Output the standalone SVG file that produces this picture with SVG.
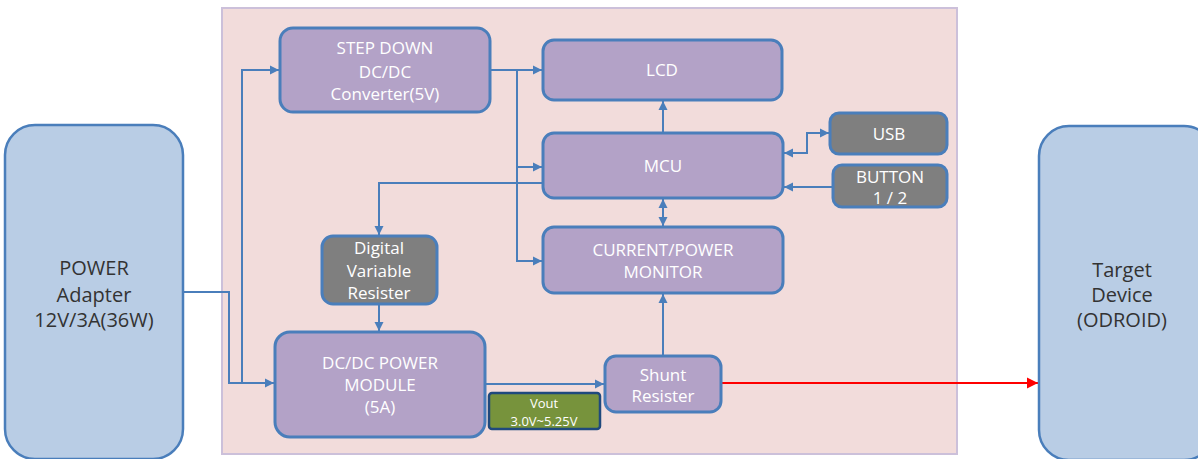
<svg xmlns="http://www.w3.org/2000/svg" width="1198" height="459" viewBox="0 0 1198 459">
<style>
.bg{fill:#f2dcdb;stroke:#ccc0da;stroke-width:2}
.pu{fill:#b3a2c7;stroke:#4a7ebb;stroke-width:3}
.gr{fill:#7f7f7f;stroke:#4a7ebb;stroke-width:3}
.bl{fill:#b9cde5;stroke:#4a7ebb;stroke-width:2.5}
.gn{fill:#77933c;stroke:#1f497d;stroke-width:2.5}
.tw{font-family:"Open Sans","Liberation Sans",sans-serif;font-size:17px;fill:#ffffff;text-anchor:middle}
.tb{font-family:"Open Sans","Liberation Sans",sans-serif;font-size:20px;fill:#333333;text-anchor:middle}
.ts{font-family:"Open Sans","Liberation Sans",sans-serif;font-size:13px;fill:#ffffff;text-anchor:middle}
.ln{fill:none;stroke:#4a7ebb;stroke-width:2}
.red{fill:none;stroke:#ff0000;stroke-width:2}
</style>
<defs>
<marker id="ah" markerUnits="userSpaceOnUse" markerWidth="10" markerHeight="10" refX="9" refY="5" orient="auto-start-reverse"><path d="M0,0.5 L9,5 L0,9.5 z" fill="#4a7ebb"/></marker>
<marker id="ahr" markerUnits="userSpaceOnUse" markerWidth="12" markerHeight="12" refX="11" refY="6" orient="auto"><path d="M0,0.5 L11,6 L0,11.5 z" fill="#ff0000"/></marker>
</defs>
<rect class="bg" x="222" y="8" width="735" height="446"/>
<g id="connectors">
<path class="ln" d="M183,292 H229 V383 H274" marker-end="url(#ah)"/>
<path class="ln" d="M242,383 V70 H279" marker-end="url(#ah)"/>
<path class="ln" d="M490,70 H542" marker-end="url(#ah)"/>
<path class="ln" d="M517,70 V261 H542" marker-end="url(#ah)"/>
<path class="ln" d="M517,167 H542" marker-end="url(#ah)"/>
<path class="ln" d="M543,183 H379 V235" marker-end="url(#ah)"/>
<path class="ln" d="M663,133 V101" marker-end="url(#ah)"/>
<path class="ln" d="M663,199 V226" marker-start="url(#ah)" marker-end="url(#ah)"/>
<path class="ln" d="M784,153 H807 V133 H829" marker-start="url(#ah)" marker-end="url(#ah)"/>
<path class="ln" d="M833,187 H784" marker-end="url(#ah)"/>
<path class="ln" d="M379,304 V331" marker-end="url(#ah)"/>
<path class="ln" d="M485,384 H604" marker-end="url(#ah)"/>
<path class="ln" d="M663,356 V294" marker-end="url(#ah)"/>
<path class="red" d="M721,383 H1038" marker-end="url(#ahr)"/>
</g>
<g id="power-adapter">
<rect class="bl" x="5" y="125" width="178" height="334" rx="30"/>
<text class="tb" x="94" y="275">POWER</text>
<text class="tb" x="94" y="302">Adapter</text>
<text class="tb" x="94" y="327">12V/3A(36W)</text>
</g>
<g id="target-device">
<rect class="bl" x="1039" y="126" width="175" height="334" rx="30"/>
<text class="tb" x="1122" y="277">Target</text>
<text class="tb" x="1122" y="302">Device</text>
<text class="tb" x="1122" y="327">(ODROID)</text>
</g>
<g id="step-down">
<rect class="pu" x="280" y="28" width="210" height="84" rx="13"/>
<text class="tw" x="385" y="54">STEP DOWN</text>
<text class="tw" x="385" y="78">DC/DC</text>
<text class="tw" x="385" y="100">Converter(5V)</text>
</g>
<g id="lcd">
<rect class="pu" x="543" y="40" width="239" height="60" rx="11"/>
<text class="tw" x="662" y="76">LCD</text>
</g>
<g id="mcu">
<rect class="pu" x="543" y="133" width="240" height="65" rx="11"/>
<text class="tw" x="663" y="172">MCU</text>
</g>
<g id="current-power-monitor">
<rect class="pu" x="543" y="227" width="240" height="66" rx="11"/>
<text class="tw" x="663" y="256">CURRENT/POWER</text>
<text class="tw" x="663" y="278">MONITOR</text>
</g>
<g id="usb">
<rect class="gr" x="830" y="113" width="117" height="41" rx="9"/>
<text class="tw" x="889" y="140">USB</text>
</g>
<g id="button">
<rect class="gr" x="833" y="165" width="114" height="42" rx="9"/>
<text class="tw" x="890" y="183">BUTTON</text>
<text class="tw" x="890" y="204">1 / 2</text>
</g>
<g id="digital-variable-resister">
<rect class="gr" x="322" y="236" width="115" height="68" rx="11"/>
<text class="tw" x="379" y="254">Digital</text>
<text class="tw" x="379" y="277">Variable</text>
<text class="tw" x="379" y="299">Resister</text>
</g>
<g id="dcdc-power-module">
<rect class="pu" x="275" y="332" width="210" height="105" rx="15"/>
<text class="tw" x="380" y="369">DC/DC POWER</text>
<text class="tw" x="380" y="391">MODULE</text>
<text class="tw" x="380" y="413">(5A)</text>
</g>
<g id="shunt-resister">
<rect class="pu" x="605" y="356" width="116" height="56" rx="11"/>
<text class="tw" x="663" y="381">Shunt</text>
<text class="tw" x="663" y="402">Resister</text>
</g>
<g id="vout">
<rect class="gn" x="489" y="393" width="111" height="36" rx="3"/>
<text class="ts" x="544" y="408">Vout</text>
<text class="ts" x="544" y="426">3.0V~5.25V</text>
</g>
</svg>
